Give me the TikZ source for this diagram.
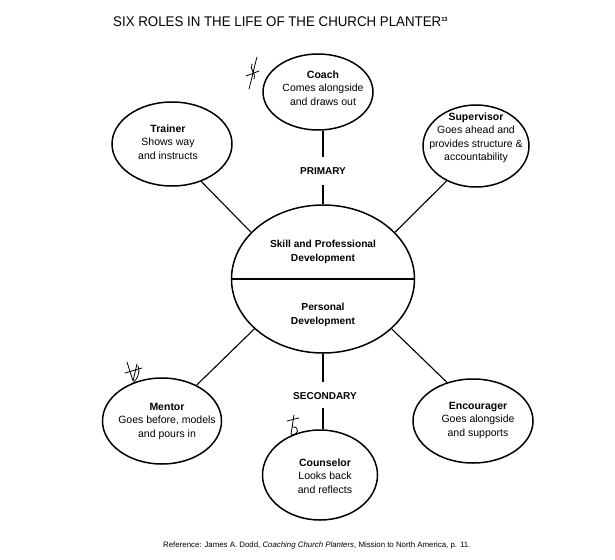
\documentclass[tikz,border=0pt]{standalone}
\usepackage{fontspec}
\setmainfont{Liberation Sans}
\usetikzlibrary{shapes.geometric}
\begin{document}
\begin{tikzpicture}[x=1pt,y=-1pt,
  role/.style={ellipse, draw, line width=1.5pt, inner sep=0pt},
  rtext/.style={align=center, inner sep=0pt, font=\fontsize{10.5}{13.5}\selectfont},
  ctext/.style={align=center, inner sep=0pt, font=\bfseries\fontsize{10.2}{14.5}\selectfont},
  link/.style={line width=1.1pt},
  lbl/.style={inner sep=0pt, font=\bfseries\fontsize{10}{12}\selectfont},
  scrib/.style={line width=0.8pt, line cap=round, line join=round}]
\useasboundingbox[fill=white] (0,0) rectangle (615,559);

% title
\node[anchor=base west, inner sep=0pt] (title) at (113,27)
  {\scalebox{0.95}[1]{\fontsize{14}{16}\selectfont SIX ROLES IN THE LIFE OF THE CHURCH PLANTER\textsuperscript{\bfseries\fontsize{6}{7}\selectfont 13}}};

% central ellipse
\node[role, minimum width=183, minimum height=148] (core) at (323,279) {};
\draw[link] (core.west) -- (core.east);
\node[ctext] (skill) at (323,252) {Skill and Professional\\Development};
\node[ctext] (personal) at (323,315) {Personal\\Development};

% roles
\node[role, minimum width=110, minimum height=76] (coach) at (318,92) {};
\node[rtext] (coach-t) at (323,88) {\textbf{Coach}\\Comes alongside\\and draws out};

\node[role, minimum width=120, minimum height=84] (trainer) at (172,144) {};
\node[rtext] (trainer-t) at (168,142) {\textbf{Trainer}\\Shows way\\and instructs};

\node[role, minimum width=106, minimum height=82] (supervisor) at (476,146) {};
\node[rtext] (supervisor-t) at (476,138) {\textbf{Supervisor}\\Goes ahead and\\provides structure \&\\accountability};

\node[role, minimum width=119, minimum height=86] (mentor) at (162,421) {};
\node[rtext] (mentor-t) at (167,421) {\textbf{Mentor}\\Goes before, models\\and pours in};

\node[role, minimum width=120, minimum height=84] (encourager) at (473,421) {};
\node[rtext] (encourager-t) at (478,420) {\textbf{Encourager}\\Goes alongside\\and supports};

\node[role, minimum width=115, minimum height=90] (counselor) at (320,475) {};
\node[rtext] (counselor-t) at (325,476) {\textbf{Counselor}\\Looks back\\and reflects};

% diagonal connectors
\draw[link] (trainer.-52) -- (core.147);
\draw[link] (supervisor.-130) -- (core.33);
\draw[link] (mentor.46) -- (core.216);
\draw[link] (encourager.124) -- (core.-36);

% primary / secondary
\node[lbl] (primary) at (323,171) {PRIMARY};
\coordinate (pa) at (323,157);
\coordinate (pb) at (323,185);
\draw[link] (pa |- coach.south) -- (pa);
\draw[link] (pb) -- (pb |- core.north);

\node[lbl] (secondary) at (325,396) {SECONDARY};
\coordinate (sa) at (323,382);
\coordinate (sb) at (323,408);
\draw[link] (sa |- core.south) -- (sa);
\draw[link] (sb) -- (sb |- counselor.north);

% handwritten marks
\draw[scrib] (257,57) .. controls (254,68) and (252,78) .. (249,89);
\draw[scrib] (246,76) -- (259,71);
\draw[scrib] (252,64) .. controls (249,70) and (256,72) .. (254,79);
\draw[scrib] (127,362) -- (133,381) -- (137,364);
\draw[scrib] (125,373) -- (142,368);
\draw[scrib] (138,366) .. controls (141,374) and (136,380) .. (133,383);
\draw[scrib] (294,415) -- (291,434) .. controls (298,437) and (301,426) .. (292,427);
\draw[scrib] (287,421) -- (299,418);

% reference
\node[anchor=base west, inner sep=0pt, font=\fontsize{7.85}{9}\selectfont] (ref) at (163,547)
  {Reference: James A. Dodd, \textit{Coaching Church Planters}, Mission to North America, p. 11.};
\end{tikzpicture}
\end{document}
